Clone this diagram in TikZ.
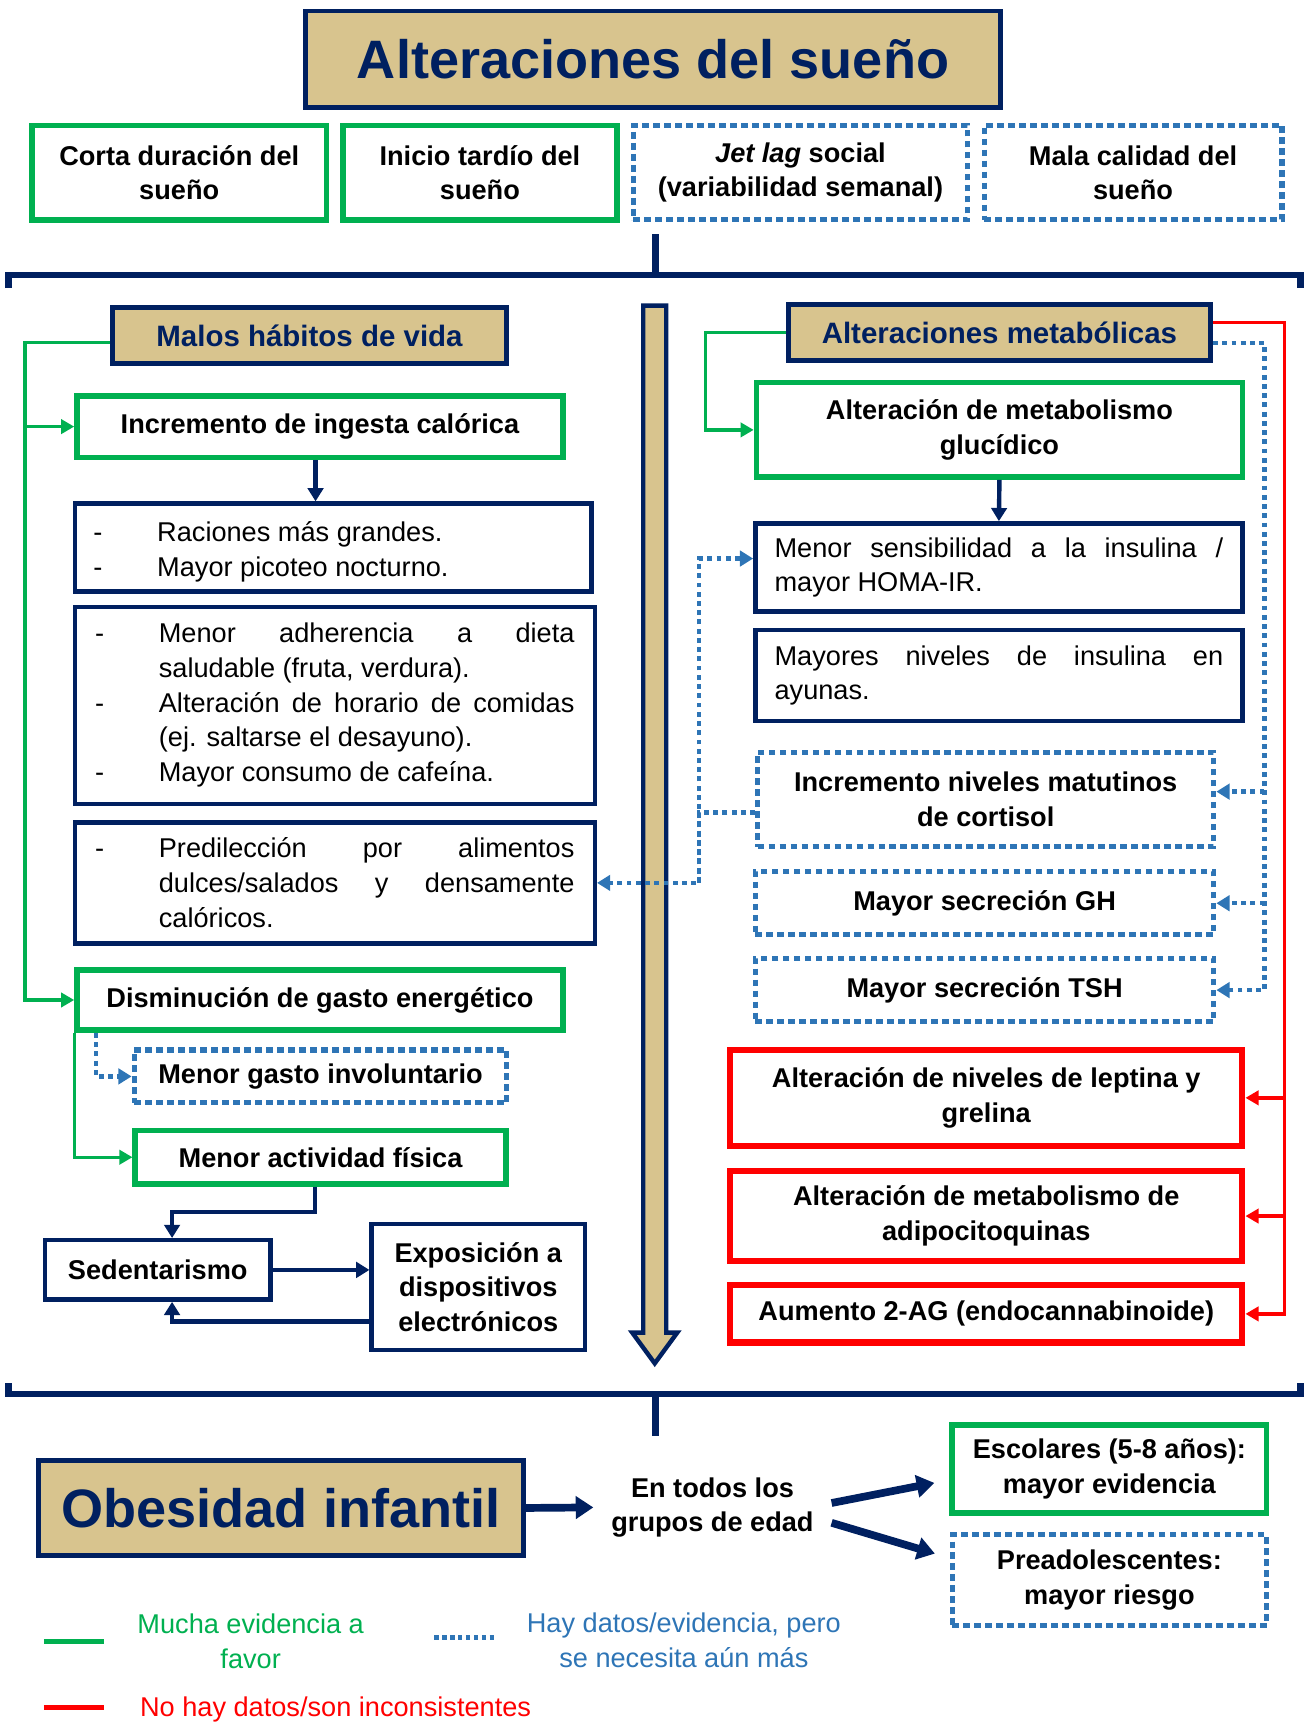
\documentclass[tikz,border=0pt]{standalone}
\usepackage{fontspec}
\setmainfont{Liberation Sans}
\usepackage{xcolor}
\usepackage{tikz}
\usetikzlibrary{arrows.meta, positioning, calc}
\definecolor{SleepNavy}{RGB}{0, 32, 96}
\definecolor{SleepTan}{RGB}{216, 196, 142}
\definecolor{EvidGreen}{RGB}{0, 176, 80}
\definecolor{EvidBlue}{RGB}{46, 117, 182}
\definecolor{EvidRed}{RGB}{255, 0, 0}
\newcommand\txtbody{\fontsize{12.35}{15.75}\selectfont}
\newcommand\txthead{\fontsize{13.4}{16}\selectfont\bfseries}
\newcommand\txttitle{\fontsize{24.6}{28}\selectfont\bfseries}
\newcommand\guion{\par\hangindent=29pt\hangafter=1\noindent\makebox[29pt][l]{-}}
\hyphenpenalty=10000
\exhyphenpenalty=10000
\tikzset{
  tanbox/.style={draw=SleepNavy, line width=2.25pt, fill=SleepTan, text=SleepNavy,
    inner sep=0pt, align=center},
  navybox/.style={draw=SleepNavy, line width=2pt, fill=white, inner sep=0pt,
    align=center, font=\txtbody\bfseries},
  listbox/.style={draw=SleepNavy, line width=2pt, fill=white, inner sep=0pt,
    align=justify, font=\txtbody},
  greenbox/.style={draw=EvidGreen, line width=2.5pt, fill=white, inner sep=0pt,
    align=center, font=\txtbody\bfseries},
  dotbox/.style={draw=EvidBlue, line width=2.3pt, dash pattern=on 3pt off 2pt,
    fill=white, inner sep=0pt, align=center, font=\txtbody\bfseries},
  redbox/.style={draw=EvidRed, line width=2.75pt, fill=white, inner sep=0pt,
    align=center, font=\txtbody\bfseries},
  navyline/.style={draw=SleepNavy, line width=3pt},
  navyarrow/.style={draw=SleepNavy, line width=2pt, -{Triangle[length=6pt,width=7pt]}},
  fatarrow/.style={draw=SleepNavy, line width=3.5pt, -{Triangle[length=8pt,width=10pt]}},
  greenarrow/.style={draw=EvidGreen, line width=1.5pt, -{Triangle[length=6pt,width=6.5pt]}},
  bluearrow/.style={draw=EvidBlue, line width=2pt, dash pattern=on 2.2pt off 2pt,
    -{Triangle[length=6pt,width=7pt]}},
  redarrow/.style={draw=EvidRed, line width=1.5pt, -{Triangle[length=6pt,width=6.5pt]}}
}
\begin{document}
\begin{tikzpicture}[x=0.5pt, y=-0.5pt]
  \useasboundingbox (0,0) rectangle (1188,1568);

  % cabecera
  \node[tanbox, font=\txttitle, minimum width=316pt, minimum height=44pt] (titulo) at (594,54) {Alteraciones del sueño};
  \node[greenbox, minimum width=134pt, minimum height=43pt] (corta) at (163,157) {Corta duración del\\sueño};
  \node[greenbox, minimum width=124.5pt, minimum height=43pt] (inicio) at (436.5,157) {Inicio tardío del\\sueño};
  \node[dotbox, minimum width=152pt, minimum height=43pt] (jetlag) at (728,157) {\textit{Jet lag} social\\(variabilidad semanal)};
  \node[dotbox, minimum width=135.5pt, minimum height=43pt] (mala) at (1030.5,157) {Mala calidad del\\sueño};

  \coordinate (tallo) at (596,213);
  \coordinate (corcheteA1) at (8,250);
  \coordinate (corcheteA2) at (1183,250);
  \draw[navyline] (tallo) -- (tallo |- corcheteA1);
  \draw[navyline] ([yshift=-6pt]corcheteA1) -- (corcheteA1) -- (corcheteA2) -- ([yshift=-6pt]corcheteA2);

  % flecha central
  \draw[draw=SleepNavy, line width=2pt, fill=SleepTan, line join=miter]
    (585,278) -- (606,278) -- (606,1212) -- (616,1212) -- (595.5,1240) -- (575,1212) -- (585,1212) -- cycle;

  % columna izquierda
  \node[tanbox, font=\txthead, minimum width=179.5pt, minimum height=25.5pt] (malos) at (281.5,305.5) {Malos hábitos de vida};
  \node[greenbox, minimum width=221pt, minimum height=28pt] (ingesta) at (291,388) {Incremento de ingesta calórica};
  \node[listbox, text width=218pt, minimum width=235pt, minimum height=40pt] (raciones) at (303,498)
    {\guion Raciones más grandes.\guion Mayor picoteo nocturno.\par\kern3pt};
  \node[listbox, text width=218pt, minimum width=236.5pt, minimum height=89.5pt] (dieta) at (304.5,641.5)
    {\guion Menor adherencia a dieta\linebreak saludable (fruta, verdura).\guion Alteración de horario de comidas\linebreak (ej. saltarse el desayuno).\guion Mayor consumo de cafeína.\par\kern7pt};
  \node[listbox, text width=218pt, minimum width=236.5pt, minimum height=55pt] (predileccion) at (304.5,803)
    {\guion Predilección por alimentos\linebreak dulces/salados y densamente\linebreak calóricos.\par\kern7pt};
  \node[greenbox, minimum width=221pt, minimum height=27.5pt] (gasto) at (291,909.5) {Disminución de gasto energético};
  \node[dotbox, minimum width=169.5pt, minimum height=24pt] (involuntario) at (291.5,979) {Menor gasto involuntario};
  \node[greenbox, minimum width=168.5pt, minimum height=24.5pt] (actividad) at (291.5,1052.5) {Menor actividad física};
  \node[navybox, minimum width=102.5pt, minimum height=27pt] (sedentarismo) at (143.5,1155) {Sedentarismo};
  \node[navybox, minimum width=97pt, minimum height=57.5pt] (pantallas) at (435,1170.5) {Exposición a\\dispositivos\\electrónicos};

  \draw[greenarrow] ([yshift=-3pt]malos.west) -- ++(-77,0) |- (ingesta.west);
  \draw[greenarrow] ([yshift=-3pt]malos.west) -- ++(-77,0) |- (gasto.west);
  \draw[navyarrow] ([xshift=-2pt]ingesta.south) -- ([xshift=-2pt]ingesta.south |- raciones.north);
  \draw[bluearrow] ([xshift=10pt]gasto.south west) |- (involuntario.west);
  \draw[greenarrow] (gasto.south west) |- (actividad.west);
  \draw[navyarrow] ([xshift=-2.5pt]actividad.south) -- ++(0,23) -| ([xshift=6.5pt]sedentarismo.north);
  \draw[navyarrow] (sedentarismo.east) -- (sedentarismo.east -| pantallas.west);
  \draw[navyarrow] ([yshift=-15.75pt]pantallas.west) -| ([xshift=6.5pt]sedentarismo.south);

  % columna derecha
  \node[tanbox, font=\txthead, minimum width=192pt, minimum height=25.5pt] (metabolicas) at (909,302.5) {Alteraciones metabólicas};
  \node[greenbox, minimum width=221pt, minimum height=43pt] (glucidico) at (909,391) {Alteración de metabolismo\\glucídico};
  \node[listbox, text width=204pt, minimum width=221.5pt, minimum height=40pt] (sensibilidad) at (908.5,516)
    {Menor sensibilidad a la insulina /\linebreak mayor HOMA-IR.};
  \node[listbox, text width=204pt, minimum width=221.5pt, minimum height=41.5pt] (ayunas) at (908.5,614.5)
    {Mayores niveles de insulina en\linebreak ayunas.};
  \node[dotbox, minimum width=207.5pt, minimum height=43pt] (cortisol) at (896.5,727) {Incremento niveles matutinos\\de cortisol};
  \node[dotbox, minimum width=208.5pt, minimum height=28.5pt] (gh) at (895.5,821.5) {Mayor secreción GH};
  \node[dotbox, minimum width=208.5pt, minimum height=28.5pt] (tsh) at (895.5,900.5) {Mayor secreción TSH};
  \node[redbox, minimum width=233pt, minimum height=43.5pt] (leptina) at (897,998.5) {Alteración de niveles de leptina y\\grelina};
  \node[redbox, minimum width=233pt, minimum height=41pt] (adipocito) at (897,1106) {Alteración de metabolismo de\\adipocitoquinas};
  \node[redbox, minimum width=233pt, minimum height=26pt] (endocan) at (897,1195) {Aumento 2-AG (endocannabinoide)};

  \coordinate (redbus) at (1168,0);
  \coordinate (bluebus) at (1150,0);
  \coordinate (cortbus) at (636,0);
  \coordinate (cortin) at ([yshift=3.5pt]cortisol.east);
  \draw[greenarrow] (metabolicas.west) -- ++(-73,0) |- (glucidico.west);
  \draw[navyarrow] (glucidico.south) -- (sensibilidad.north);
  \draw[redarrow] ([yshift=4.75pt]metabolicas.east) -| (redbus |- endocan.east) -- (endocan.east);
  \foreach \n in {leptina, adipocito}
    \draw[redarrow] (redbus |- \n.east) -- (\n.east);
  \draw[bluearrow] ([yshift=-4.75pt]metabolicas.east) -| (bluebus |- tsh.east) -- (tsh.east);
  \draw[bluearrow] (bluebus |- gh.east) -- (gh.east);
  \draw[bluearrow] (bluebus |- cortin) -- (cortin);
  \draw[bluearrow] ([yshift=-6pt]cortisol.west) -| (cortbus |- predileccion.east) -- (predileccion.east);
  \draw[bluearrow] (cortbus |- predileccion.east) |- ([yshift=4pt]sensibilidad.west);

  % pie
  \coordinate (corcheteB1) at (8,1268);
  \coordinate (corcheteB2) at (1183,1268);
  \draw[navyline] ([yshift=5pt]corcheteB1) -- (corcheteB1) -- (corcheteB2) -- ([yshift=5pt]corcheteB2);
  \draw[navyline] (tallo |- corcheteB1) -- ++(0,38);

  \node[tanbox, font=\txttitle, minimum width=220.5pt, minimum height=43.5pt] (obesidad) at (255.5,1371.5) {Obesidad infantil};
  \node[font=\txtbody\bfseries, align=center, inner sep=8pt] (edades) at (648,1371) {En todos los\\grupos de edad};
  \node[greenbox, minimum width=143pt, minimum height=40pt] (escolares) at (1009,1336) {Escolares (5-8 años):\\mayor evidencia};
  \node[dotbox, minimum width=143pt, minimum height=41pt] (preadol) at (1009,1437) {Preadolescentes:\\mayor riesgo};

  \draw[fatarrow] (obesidad.east) -- (edades.west);
  \draw[fatarrow, shorten >=7pt] ([yshift=2pt]edades.east) -- ([yshift=-5pt]escolares.west);
  \draw[fatarrow, shorten >=7pt] ([yshift=-7pt]edades.east) -- ([yshift=10pt]preadol.west);

  % leyenda
  \node[font=\txtbody, text=EvidGreen, align=center] (leyverde) at (228,1493) {Mucha evidencia a\\favor};
  \node[font=\txtbody, text=EvidBlue, align=center] (leyazul) at (622,1492) {Hay datos/evidencia, pero\\se necesita aún más};
  \node[font=\txtbody, text=EvidRed, anchor=west, inner sep=0pt] (leyrojo) at (127,1555) {No hay datos/son inconsistentes};
  \draw[EvidGreen, line width=2.5pt] (40,1493) -- (95,1493);
  \draw[EvidBlue, line width=2.3pt, dash pattern=on 2pt off 1.6pt] (395,1489) -- (450,1489);
  \draw[EvidRed, line width=2.5pt] (40,1553) -- (95,1553);
\end{tikzpicture}
\end{document}
